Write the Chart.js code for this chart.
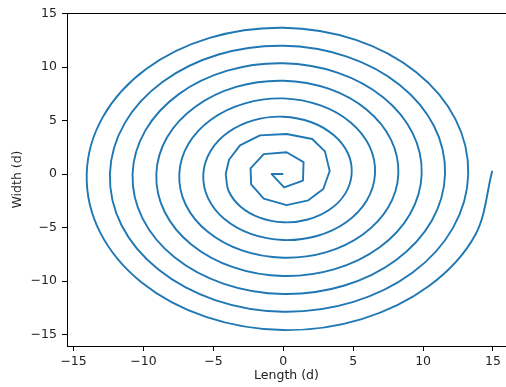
<!DOCTYPE html>
<html>
<head>
<meta charset="utf-8">
<script src="https://cdn.jsdelivr.net/npm/chart.js@4"></script>
<style>
  html, body { margin: 0; padding: 0; background: #fff; }
  #wrap { width: 506px; height: 387px; }
</style>
</head>
<body>
<div id="wrap"><canvas id="myChart" width="506" height="387"></canvas></div>
<script>
// spiral: inner turns vertex by vertex,
// outer turns every 22.5 deg (one line = a quarter turn)
const innerX = [0, -0.83, 0.06, 1.41, 1.45, 0.24, -1.4, -2.34, -2.3, -1.4, 0.24, 1.79, 2.86, 3.32, 2.98, 2.07, 0.24, -1.67, -3.1, -3.88, -4.12];
const innerY = [0, 0, -1.24, -0.61, 1.12, 2.04, 1.86, 0.52, -0.97, -2.3, -2.91, -2.46, -1.4, 0.28, 2.12, 3.27, 3.74, 3.61, 2.68, 1.34, 0];

const outerX = [-4.12,
  -3.90, -3.05, -1.69, 0,
  1.76, 3.32, 4.43, 4.89,
  4.63, 3.62, 2.01, 0,
  -2.09, -3.92, -5.20, -5.72,
  -5.39, -4.21, -2.32, 0,
  2.40, 4.50, 5.97, 6.56,
  6.18, 4.82, 2.66, 0,
  -2.74, -5.13, -6.79, -7.44,
  -6.97, -5.40, -2.96, 0,
  3.03, 5.67, 7.51, 8.23,
  7.71, 5.99, 3.29, 0,
  -3.37, -6.29, -8.31, -9.08,
  -8.49, -6.58, -3.60, 0,
  3.68, 6.87, 9.06, 9.90,
  9.25, 7.16, 3.92, 0,
  -4.00, -7.47, -9.86, -10.78,
  -10.06, -7.78, -4.25, 0,
  4.32, 8.05, 10.61, 11.57,
  10.79, 8.33, 4.55, 0,
  -4.63, -8.62, -11.36, -12.40,
  -11.57, -8.93, -4.88, 0,
  4.96, 9.23, 12.14, 13.23,
  12.32, 9.51, 5.19, 0,
  -5.27, -9.81, -12.90, -14.06,
  -13.11, -10.13, -5.53, 0,
  5.61, 10.44, 13.73, 14.95];
const outerY = [0,
  -1.61, -3.05, -4.07, -4.51,
  -4.25, -3.32, -1.83, 0,
  1.92, 3.62, 4.84, 5.36,
  5.04, 3.92, 2.15, 0,
  -2.23, -4.21, -5.60, -6.17,
  -5.79, -4.50, -2.47, 0,
  2.56, 4.82, 6.41, 7.07,
  6.61, 5.13, 2.81, 0,
  -2.89, -5.40, -7.14, -7.82,
  -7.32, -5.67, -3.11, 0,
  3.20, 5.99, 7.95, 8.72,
  8.14, 6.29, 3.44, 0,
  -3.52, -6.58, -8.70, -9.53,
  -8.89, -6.87, -3.75, 0,
  3.83, 7.16, 9.46, 10.35,
  9.66, 7.47, 4.08, 0,
  -4.17, -7.78, -10.26, -11.21,
  -10.44, -8.05, -4.39, 0,
  4.47, 8.33, 10.98, 11.99,
  11.17, 8.62, 4.71, 0,
  -4.79, -8.93, -11.78, -12.87,
  -11.97, -9.23, -5.03, 0,
  5.11, 9.51, 12.53, 13.67,
  12.72, 9.81, 5.34, 0,
  -5.43, -10.13, -13.35, -14.58,
  -13.55, -10.44, -5.69, 0.3];

const xTicks = [-15, -10, -5, 0, 5, 10, 15];
const yTicks = [-15, -10, -5, 0, 5, 10, 15];

function toPoints(xs, ys) {
  return xs.map((x, i) => ({ x: x, y: ys[i] }));
}

// top spine like matplotlib
const topSpine = {
  id: "topSpine",
  afterDraw(chart) {
    const a = chart.chartArea;
    const ctx = chart.ctx;
    ctx.save();
    ctx.strokeStyle = "#000";
    ctx.lineWidth = 1;
    ctx.beginPath();
    ctx.moveTo(a.left, a.top + 0.5);
    ctx.lineTo(a.right, a.top + 0.5);
    ctx.stroke();
    ctx.restore();
  },
};

const font = { family: "DejaVu Sans", size: 12.5 };

new Chart(document.getElementById("myChart"), {
  type: "scatter",
  data: {
    datasets: [
      {
        data: toPoints(innerX, innerY),
        showLine: true,
        borderColor: "#1f77b4",
        borderWidth: 1.9,
        pointRadius: 0,
        tension: 0,
        borderJoinStyle: "round",
      },
      {
        data: toPoints(outerX, outerY),
        showLine: true,
        borderColor: "#1f77b4",
        borderWidth: 1.9,
        pointRadius: 0,
        tension: 0.34,
        borderJoinStyle: "round",
      },
    ],
  },
  options: {
    responsive: false,
    animation: false,
    layout: { padding: { top: 13, right: 0, left: 0, bottom: 0 } },
    plugins: { legend: { display: false }, tooltip: { enabled: false } },
    scales: {
      x: {
        type: "linear",
        min: -15.47,
        max: 15.93,
        afterBuildTicks: (axis) => { axis.ticks = xTicks.map((v) => ({ value: v })); },
        afterFit: (axis) => { axis.height = 41; },
        grid: { drawOnChartArea: false, drawTicks: true, tickLength: 5, color: "#000" },
        border: { color: "#000", width: 1 },
        ticks: { color: "#222", font: font, padding: 3, maxRotation: 0,
          callback: (v) => (v < 0 ? "\u2212" + Math.abs(v) : String(v)) },
        title: { display: true, text: "Length (d)", color: "#222", font: font, padding: { top: 0, bottom: 3.5 } },
      },
      y: {
        type: "linear",
        min: -16.07,
        max: 15.05,
        afterBuildTicks: (axis) => { axis.ticks = yTicks.map((v) => ({ value: v })); },
        afterFit: (axis) => { axis.width = 67; },
        grid: { drawOnChartArea: false, drawTicks: true, tickLength: 5, color: "#000" },
        border: { color: "#000", width: 1 },
        ticks: { color: "#222", font: font, padding: 5,
          callback: (v) => (v < 0 ? "\u2212" + Math.abs(v) : String(v)) },
        title: { display: true, text: "Width (d)", color: "#222", font: font, padding: { top: 10.5, bottom: 0 } },
      },
    },
  },
  plugins: [topSpine],
});
</script>
</body>
</html>
